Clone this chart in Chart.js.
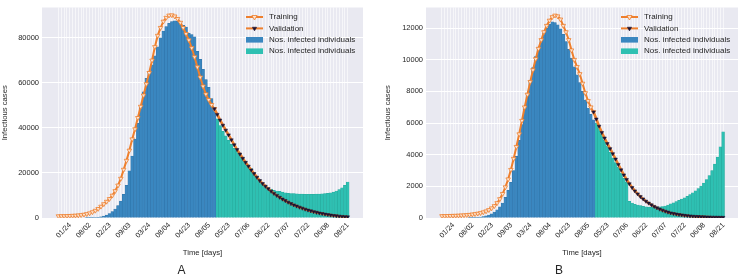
<!DOCTYPE html>
<html>
<head>
<meta charset="utf-8">
<script src="https://cdn.jsdelivr.net/npm/chart.js@4.4.1/dist/chart.umd.min.js"></script>
<style>
  body { margin: 0; background: #fff; }
  canvas { position: absolute; top: 0; }
  #chartA { left: 0; }
  #chartB { left: 373px; }
</style>
</head>
<body>
<canvas id="chartA" width="373" height="279"></canvas>
<canvas id="chartB" width="373" height="279"></canvas>
<script>
"use strict"

// tick labels on the time axis (one every 7 days, first one on day 2)
const dateLabels = ["01/24", "08/02", "02/23", "09/03", "03/24", "08/04", "04/23", "08/05",
                    "05/23", "07/06", "06/22", "07/07", "07/22", "06/08", "08/21"];
const firstLabelDay = 2;
const labelStep = 7;
const lastTrainDay = 55;   // training covers day 0..55, validation day 55..102

// y tick values
const yTicksA = [0, 20000, 40000, 60000, 80000];
const yTicksB = [0, 2000, 4000, 6000, 8000, 10000, 12000];

// ---- panel A ----
const trainingA = [850, 870, 900, 940, 990, 1050, 1120, 1220, 1350, 1550,
    1800, 2150, 2650, 3300, 4100, 5100, 6200, 7300, 8500, 10000,
    12000, 14500, 17500, 21500, 25500, 30000, 35000, 39500, 44500, 49500,
    54500, 59500, 64500, 70000, 76000, 81000, 84500, 87300, 89000, 90000,
    90100, 89600, 88500, 86800, 84500, 81800, 79000, 75500, 71500, 67000,
    62500, 58500, 55000, 52500, 50300, 48500];
const validationA = [48500, 46000, 43500, 41200, 39000, 36900, 34700, 32500, 30400, 28400,
    26500, 24700, 23000, 21300, 19700, 18100, 16600, 15300, 14100, 13000,
    11900, 10900, 10000, 9200, 8400, 7700, 7000, 6400, 5800, 5300,
    4800, 4350, 3900, 3500, 3150, 2800, 2500, 2200, 1950, 1700,
    1480, 1280, 1100, 940, 800, 680, 570, 480];
const infectedTrainA = [0, 0, 0, 0, 0, 0, 0, 0, 0, 0,
    50, 80, 120, 200, 350, 550, 850, 1300, 2000, 2900,
    4000, 5500, 7500, 10500, 14500, 21000, 27500, 35000, 42000, 49000,
    56000, 62000, 65000, 68000, 72000, 76000, 80000, 83000, 85000, 86500,
    87300, 87600, 87400, 86800, 85600, 84800, 82000, 81500, 80500, 74000,
    70500, 66000, 61500, 58000, 53000, 49000];
const infectedValA = [44000, 41000, 38500, 36500, 34500, 32700, 31000, 29700, 28500, 26700,
    25000, 23500, 22000, 20200, 18500, 17000, 15500, 14500, 13500, 12800,
    12300, 12000, 11800, 11500, 11200, 11000, 10900, 10800, 10700, 10600,
    10600, 10500, 10500, 10500, 10500, 10600, 10600, 10700, 10800, 11000,
    11200, 11500, 12000, 12600, 13400, 14500, 16000];

// ---- panel B ----
const trainingB = [130, 130, 135, 140, 145, 150, 160, 170, 180, 195,
    210, 230, 255, 285, 320, 370, 430, 510, 620, 760,
    950, 1200, 1530, 1950, 2450, 3050, 3750, 4500, 5300, 6150,
    7000, 7800, 8600, 9350, 10050, 10700, 11250, 11750, 12150, 12480,
    12700, 12800, 12750, 12550, 12150, 11750, 11250, 10600, 10000, 9550,
    9100, 8500, 7900, 7400, 7000, 6700];
const validationB = [6700, 6250, 5800, 5400, 5050, 4700, 4380, 4060, 3720, 3380,
    3040, 2720, 2430, 2160, 1920, 1710, 1520, 1350, 1200, 1060,
    940, 830, 730, 640, 560, 490, 425, 370, 320, 280,
    245, 215, 190, 165, 145, 125, 110, 97, 86, 77,
    69, 62, 56, 51, 47, 44, 41, 39];
const infectedTrainB = [0, 0, 0, 0, 0, 0, 0, 0, 0, 0,
    10, 15, 20, 40, 60, 90, 130, 190, 270, 380,
    520, 700, 950, 1300, 1750, 2250, 3000, 3900, 4900, 5900,
    6900, 7850, 8700, 9500, 10200, 10800, 11300, 11700, 12000, 12250,
    12400, 12350, 12200, 11950, 11600, 11150, 10650, 10100, 9550, 9050,
    8550, 8000, 7450, 6950, 6550, 6200];
const infectedValB = [6000, 5650, 5300, 4900, 4550, 4150, 3800, 3500, 3200, 2850,
    2500, 2250, 1050, 950, 870, 820, 780, 740, 710, 690,
    680, 680, 690, 700, 720, 760, 820, 890, 960, 1040,
    1120, 1200, 1280, 1370, 1480, 1590, 1720, 1860, 2020, 2200,
    2420, 2680, 3000, 3400, 3850, 4500, 5450];

const orange = '#ee7f2d';
const blue = '#3a87c0';
const teal = '#2ec0b2';

Chart.defaults.font.family = '"Liberation Sans", Arial, sans-serif';
Chart.defaults.color = '#262626';

// grey seaborn-like plot background
const plotBackground = {
    id: 'plotBackground',
    beforeDraw(chart) {
        const { ctx, chartArea } = chart;
        ctx.save();
        ctx.fillStyle = '#e9e9f1';
        ctx.fillRect(chartArea.left, chartArea.top, chartArea.width, chartArea.height);
        ctx.restore();
    }
};

// legend drawn inside the plot, top right
const insideLegend = {
    id: 'insideLegend',
    afterDraw(chart) {
        const { ctx, chartArea } = chart;
        const x0 = chartArea.right - 117;
        const x1 = chartArea.right - 100;
        const tx = chartArea.right - 94;
        ctx.save();
        ctx.font = '8px "Liberation Sans", Arial, sans-serif';
        ctx.textBaseline = 'middle';
        chart.data.datasets.forEach((ds, k) => {
            const y = chartArea.top + 9.5 + k * 11.4;
            if (ds.type === 'line') {
                ctx.strokeStyle = ds.borderColor;
                ctx.lineWidth = 2;
                ctx.beginPath();
                ctx.moveTo(x0, y);
                ctx.lineTo(x1, y);
                ctx.stroke();
                ctx.fillStyle = ds.pointBackgroundColor;
                ctx.strokeStyle = ds.pointBorderColor;
                ctx.lineWidth = ds.pointBorderWidth;
                Chart.helpers.drawPoint(ctx, {
                    pointStyle: ds.pointStyle, rotation: 180, radius: ds.pointRadius + 0.4,
                    borderWidth: ds.pointBorderWidth
                }, (x0 + x1) / 2, y);
            } else {
                ctx.fillStyle = ds.backgroundColor;
                ctx.fillRect(x0, y - 2.8, x1 - x0, 5.6);
            }
            ctx.fillStyle = '#262626';
            ctx.fillText(ds.label, tx, y);
        });
        ctx.restore();
    }
};

function createChart(canvasId, panel, p) {
    const datasets = [
        {
            type: 'line',
            label: 'Training',
            data: p.training.map((v, i) => ({ x: i, y: v })),
            borderColor: orange,
            borderWidth: 2,
            tension: 0,
            pointStyle: 'triangle',
            rotation: 180,
            pointRadius: 2.6,
            pointBackgroundColor: '#fce4d2',
            pointBorderColor: orange,
            pointBorderWidth: 0.8,
            order: 1
        },
        {
            type: 'line',
            label: 'Validation',
            data: p.validation.map((v, i) => ({ x: lastTrainDay + i, y: v })),
            borderColor: orange,
            borderWidth: 2.6,
            tension: 0,
            pointStyle: 'triangle',
            rotation: 180,
            pointRadius: 2.1,
            pointBackgroundColor: '#1d1535',
            pointBorderColor: '#1d1535',
            pointBorderWidth: 0.5,
            order: 0
        },
        {
            type: 'bar',
            label: 'Nos. infected individuals',
            data: p.infTrain.map((v, i) => ({ x: i, y: v })),
            backgroundColor: blue,
            borderColor: '#2f73a8',
            borderWidth: 0.5,
            grouped: false,
            barPercentage: 1,
            categoryPercentage: 1,
            order: 3
        },
        {
            type: 'bar',
            label: 'Nos. infected individuals',
            data: p.infVal.map((v, i) => ({ x: lastTrainDay + 1 + i, y: v })),
            backgroundColor: teal,
            borderColor: '#27a89b',
            borderWidth: 0.5,
            grouped: false,
            barPercentage: 1,
            categoryPercentage: 1,
            order: 3
        }
    ];

    new Chart(document.getElementById(canvasId), {
        type: 'bar',
        data: { datasets: datasets },
        plugins: [plotBackground, insideLegend],
        options: {
            responsive: false,
            animation: false,
            events: [],
            layout: { padding: { top: 1, right: p.rightPad, left: 0, bottom: 0 } },
            plugins: {
                legend: { display: false },
                tooltip: { enabled: false },
                title: {
                    display: true,
                    text: panel,
                    position: 'bottom',
                    font: { size: 12, weight: 'normal' },
                    padding: { top: 6, bottom: 1 }
                }
            },
            scales: {
                x: {
                    type: 'linear',
                    min: -5.8,
                    max: 107.4,
                    offset: false,
                    afterFit: (scale) => { scale.height = 39.6; },
                    grid: {
                        offset: false,
                        drawTicks: false,
                        lineWidth: 0.8,
                        color: (ctx) => (ctx.tick && ctx.tick.value >= 0 && ctx.tick.value <= 102)
                            ? 'rgba(255,255,255,0.75)' : 'rgba(0,0,0,0)'
                    },
                    border: { display: false },
                    ticks: {
                        stepSize: 1,
                        autoSkip: false,
                        includeBounds: false,
                        minRotation: 45,
                        maxRotation: 45,
                        padding: 3,
                        labelOffset: 6,
                        font: { size: 7.2 },
                        callback: (value) => {
                            const k = (value - firstLabelDay) / labelStep;
                            return (Number.isInteger(k) && k >= 0 && k < dateLabels.length) ? dateLabels[k] : '';
                        }
                    },
                    title: {
                        display: true,
                        text: 'Time [days]',
                        font: { size: 7.7 },
                        padding: { top: 2, bottom: 0 }
                    }
                },
                y: {
                    min: 0,
                    max: p.yMax,
                    afterFit: (scale) => { scale.width = p.yWidth; },
                    afterBuildTicks: (scale) => { scale.ticks = p.yTicks.map(v => ({ value: v })); },
                    grid: { color: '#ffffff', lineWidth: 1, drawTicks: false },
                    border: { display: false },
                    ticks: {
                        padding: 3,
                        font: { size: 7.5 },
                        callback: (value) => String(value)
                    },
                    title: {
                        display: true,
                        text: 'Infectious cases',
                        font: { size: 7.7 },
                        padding: { top: p.yTitlePad, bottom: 0 }
                    }
                }
            }
        }
    });
}

createChart('chartA', 'A', {
    training: trainingA, validation: validationA, infTrain: infectedTrainA, infVal: infectedValA,
    yTicks: yTicksA, yMax: 93500, yWidth: 42, yTitlePad: 0, rightPad: 10
});
createChart('chartB', 'B', {
    training: trainingB, validation: validationB, infTrain: infectedTrainB, infVal: infectedValB,
    yTicks: yTicksB, yMax: 13300, yWidth: 53, yTitlePad: 10.5, rightPad: 1
});
</script>
</body>
</html>
